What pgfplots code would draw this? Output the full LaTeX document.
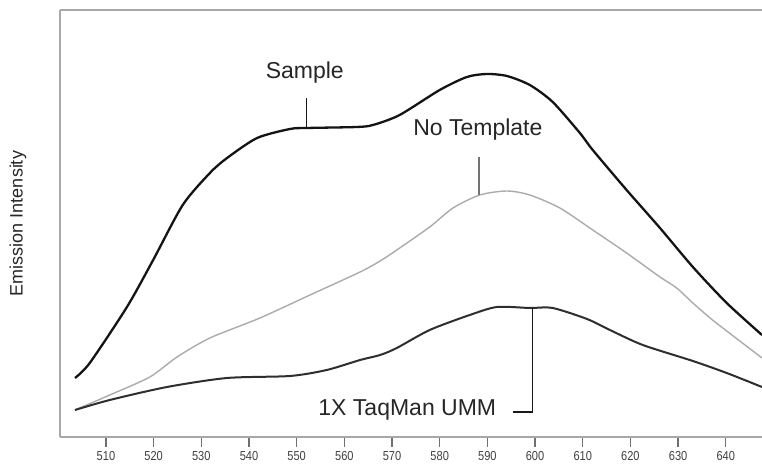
\documentclass[border=0pt]{standalone}
\usepackage{fontspec}
\setmainfont{Liberation Sans}
\newfontfamily\narrowfont[FakeStretch=0.85]{Liberation Sans}
\usepackage{pgfplots}
\pgfplotsset{compat=1.18}
\definecolor{axgray}{HTML}{A8A8A8}
\definecolor{tickgray}{HTML}{707070}
\definecolor{ntgray}{HTML}{ABABAB}
\definecolor{dark}{HTML}{2E2E2E}
\begin{document}
\begin{tikzpicture}
\path[use as bounding box] (-60pt,-28pt) rectangle (702pt,437pt);
\begin{axis}[
  scale only axis,
  width=702pt, height=427pt,
  xmin=500.36, xmax=647.6,
  ymin=0, ymax=427,
  axis x line*=box, axis y line*=left,
  axis line style={draw=axgray, line width=2pt},
  xtick={510,520,...,640},
  xtick pos=left,
  ytick=\empty,
  xtick align=outside,
  major tick length=10pt,
  tick style={draw=tickgray, line width=1.4pt},
  /pgf/number format/assume math mode=true,
  xticklabel style={font=\narrowfont\fontsize{13}{13}\selectfont, text=black!75, yshift=-1pt},
  ylabel={Emission Intensity},
  every axis y label/.style={at={(axis description cs:0,0.5)}, xshift=-42pt, rotate=90, anchor=center, font=\fontsize{18}{18}\selectfont, text=black!85},
  clip=false,
]
% Sample
\addplot[draw=black!92, line width=2.3pt, smooth, tension=0.45] coordinates {
(503.5,59) (506.6,74) (514.4,130) (519.9,177) (526.1,232) (531.8,264) (535.4,279)
(541.7,299) (548.6,308) (552.1,309) (562.6,310) (566.0,312) (571.6,322) (580.0,347)
(585.7,360) (589.9,363) (594.1,361) (598.9,352) (603.7,335) (609.4,304) (612.1,287)
(619.2,247) (626.2,209) (633.1,170) (640.2,134) (647.6,102)
};
% No Template
\addplot[draw=ntgray, line width=1.4pt, smooth, tension=0.45] coordinates {
(503.5,27) (510.8,42) (519.2,60) (524.9,80) (531.8,99) (542.3,119) (552.8,142)
(563.3,165) (567.5,176) (571.0,187) (577.9,210) (582.8,229) (588.4,242) (594.1,246)
(598.9,242) (605.2,229) (612.1,207) (619.2,184) (626.2,160) (629.7,149) (633.1,134)
(636.7,119) (640.2,106) (647.6,79)
};
% 1X TaqMan UMM
\addplot[draw=dark, line width=2pt, smooth, tension=0.45] coordinates {
(503.5,27) (510.8,37) (522.8,50) (535.4,59) (548.6,61) (556.3,67) (563.3,77)
(567.5,82) (571.0,89) (577.9,107) (586.3,122) (592.0,130) (598.9,129) (603.7,129)
(610.9,118) (615.7,107) (622.6,92) (633.1,76) (640.2,64) (647.6,50)
};
% annotations
\node[font=\fontsize{23}{23}\selectfont, text=black!85] at (axis cs:551.7,364) {Sample};
\draw[black!90, line width=1.5pt] (axis cs:552.1,339) -- (axis cs:552.1,309);
\node[font=\fontsize{23}{23}\selectfont, text=black!85] at (axis cs:588.0,307) {No Template};
\draw[black!55, line width=2pt] (axis cs:588.2,280) -- (axis cs:588.2,242);
\node[font=\fontsize{23}{23}\selectfont, text=black!85] at (axis cs:573.2,27) {1X TaqMan UMM};
\draw[black!90, line width=1.5pt] (axis cs:595.3,25) -- (axis cs:599.5,25) -- (axis cs:599.5,129);
\end{axis}
\end{tikzpicture}
\end{document}
